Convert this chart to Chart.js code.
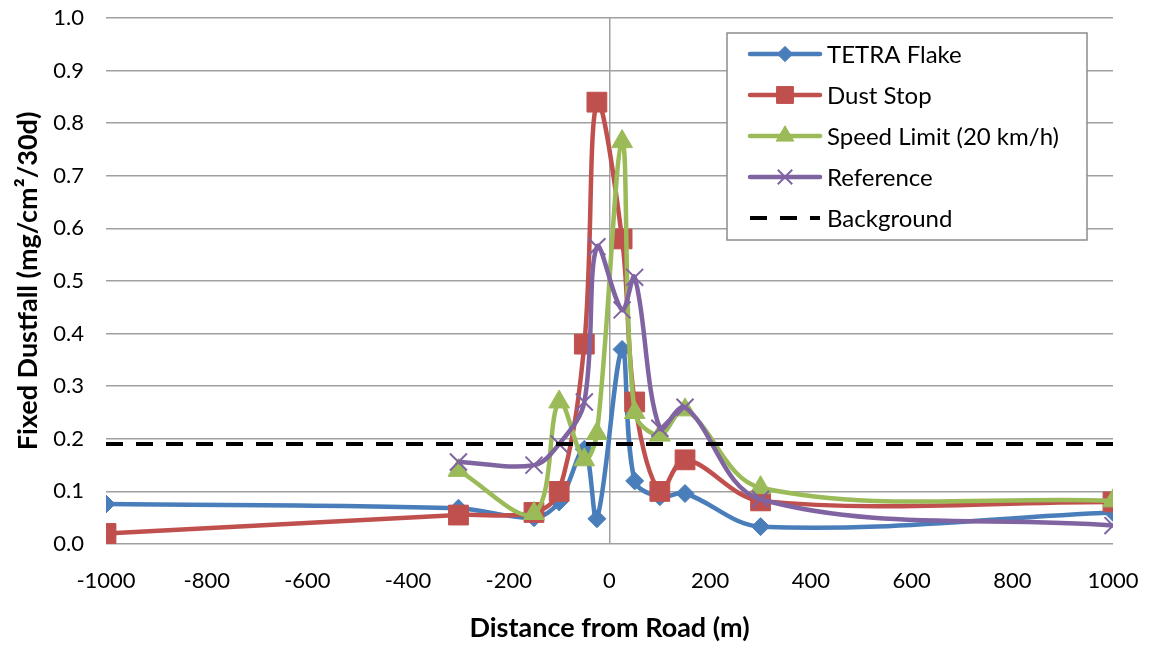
<!DOCTYPE html>
<html>
<head>
<meta charset="utf-8">
<script src="https://cdn.jsdelivr.net/npm/chart.js@4/dist/chart.umd.min.js"></script>
<style>
  html, body { margin: 0; padding: 0; background: #fff; }
  #wrap { width: 1149px; height: 645px; }
</style>
</head>
<body>
<div id="wrap"><canvas id="dust-chart"></canvas></div>
<script>
// distances (m) and dustfall values
const distFull = [-1000, -300, -150, -100, -50, -25, 25, 50, 100, 150, 300, 1000]
const distNear = [-300, -150, -100, -50, -25, 25, 50, 100, 150, 300, 1000]
const tetraFlake = [0.076, 0.068, 0.05, 0.08, 0.18, 0.048, 0.37, 0.12, 0.09, 0.096, 0.033, 0.06]
const dustStop = [0.02, 0.055, 0.06, 0.1, 0.38, 0.84, 0.58, 0.27, 0.1, 0.16, 0.082, 0.08]
const speedLimit = [0.14, 0.058, 0.27, 0.16, 0.21, 0.765, 0.25, 0.207, 0.255, 0.107, 0.082]
const referenceSite = [0.156, 0.15, 0.19, 0.27, 0.565, 0.445, 0.507, 0.22, 0.26, 0.085, 0.035]
const bgDist = [-1000, 1000]
const bgLevel = [0.19, 0.19]

const toPoints = (xs, ys) => xs.map((x, i) => ({ x: x, y: ys[i] }))

const fontFamily = "Lato, 'Open Sans', sans-serif"

// legend box drawn inside the plot area, like the Excel one
const legendBox = {
  id: "legendBox",
  afterDraw(chart) {
    const ctx = chart.ctx
    const bx = 727, by = 33, bw = 360, bh = 207
    ctx.save()
    ctx.fillStyle = "#fff"
    ctx.fillRect(bx, by, bw, bh)
    ctx.strokeStyle = "#8c8c8c"
    ctx.lineWidth = 1.5
    ctx.strokeRect(bx, by, bw, bh)
    chart.data.datasets.forEach((ds, i) => {
      const y = 54 + i * 41
      ctx.save()
      ctx.strokeStyle = ds.borderColor
      ctx.lineWidth = ds.borderWidth
      ctx.lineCap = ds.borderDash ? "butt" : "round"
      ctx.setLineDash(ds.borderDash || [])
      ctx.beginPath()
      ctx.moveTo(750, y)
      ctx.lineTo(820, y)
      ctx.stroke()
      ctx.restore()
      if (ds.pointRadius > 0) {
        ctx.save()
        ctx.fillStyle = ds.pointBackgroundColor
        ctx.strokeStyle = ds.pointBorderColor
        ctx.lineWidth = ds.pointBorderWidth
        Chart.helpers.drawPoint(ctx, {
          pointStyle: ds.pointStyle,
          radius: ds.pointRadius * 0.85,
          rotation: 0,
          borderWidth: ds.pointBorderWidth
        }, 785, y)
        ctx.restore()
      }
      ctx.fillStyle = "#000"
      ctx.font = "24px " + fontFamily
      ctx.textBaseline = "middle"
      ctx.fillText(ds.label, 827, y + 1)
    })
    ctx.restore()
  }
}

function series(label, pts, color, style, radius, order) {
  return {
    label: label,
    data: pts,
    borderColor: color,
    backgroundColor: color,
    borderWidth: 4.5,
    tension: 0.35,
    pointStyle: style,
    pointRadius: radius,
    pointHoverRadius: radius,
    pointBackgroundColor: color,
    pointBorderColor: color,
    pointBorderWidth: style === "crossRot" ? 2 : 1,
    order: order
  }
}

const dustCanvas = document.getElementById("dust-chart")

let dustChart = new Chart(dustCanvas, {
  type: "line",
  data: {
    datasets: [
      series("TETRA Flake", toPoints(distFull, tetraFlake), "#4a7ebb", "rectRot", 9, 5),
      series("Dust Stop", toPoints(distFull, dustStop), "#c0504d", "rect", 14, 4),
      series("Speed Limit (20 km/h)", toPoints(distNear, speedLimit), "#9bbb59", "triangle", 12, 3),
      series("Reference", toPoints(distNear, referenceSite), "#8064a2", "crossRot", 12, 2),
      {
        label: "Background",
        data: toPoints(bgDist, bgLevel),
        borderColor: "#000",
        backgroundColor: "#000",
        borderWidth: 4,
        borderDash: [17, 13],
        pointRadius: 0,
        pointHoverRadius: 0,
        order: 1
      }
    ]
  },
  options: {
    responsive: true,
    maintainAspectRatio: false,
    animation: { duration: 0 },
    layout: { padding: { top: 18, right: 36, left: 0, bottom: 0 } },
    scales: {
      x: {
        type: "linear",
        min: -1000,
        max: 1000,
        ticks: {
          stepSize: 200,
          color: "#000",
          padding: 24,
          font: { family: fontFamily, size: 22 },
          callback: (v) => String(v)
        },
        grid: {
          drawTicks: false,
          lineWidth: 1.5,
          color: (c) => (c.tick && c.tick.value === 0 ? "#a0a0a0" : "rgba(0,0,0,0)")
        },
        border: { display: false },
        title: {
          display: true,
          text: "Distance from Road (m)",
          color: "#000",
          font: { family: fontFamily, size: 27, weight: "bold" },
          padding: { top: 10, bottom: 1 }
        },
        afterFit: (scale) => {
          scale.height = 101
          scale.paddingLeft = 0
          scale.paddingRight = 0
        }
      },
      y: {
        min: 0,
        max: 1,
        ticks: {
          stepSize: 0.1,
          color: "#000",
          padding: 22,
          font: { family: fontFamily, size: 22 },
          callback: (v) => v.toFixed(1)
        },
        grid: {
          drawTicks: false,
          lineWidth: 1.5,
          color: "#a0a0a0"
        },
        border: { display: false },
        title: {
          display: true,
          text: "Fixed Dustfall (mg/cm²/30d)",
          color: "#000",
          font: { family: fontFamily, size: 27, weight: "bold" },
          padding: { top: 12, bottom: 4 }
        },
        afterFit: (scale) => {
          scale.width = 106
          scale.paddingTop = 0
          scale.paddingBottom = 0
        }
      }
    },
    plugins: {
      legend: { display: false },
      tooltip: { enabled: false }
    }
  },
  plugins: [legendBox]
})
</script>
</body>
</html>
